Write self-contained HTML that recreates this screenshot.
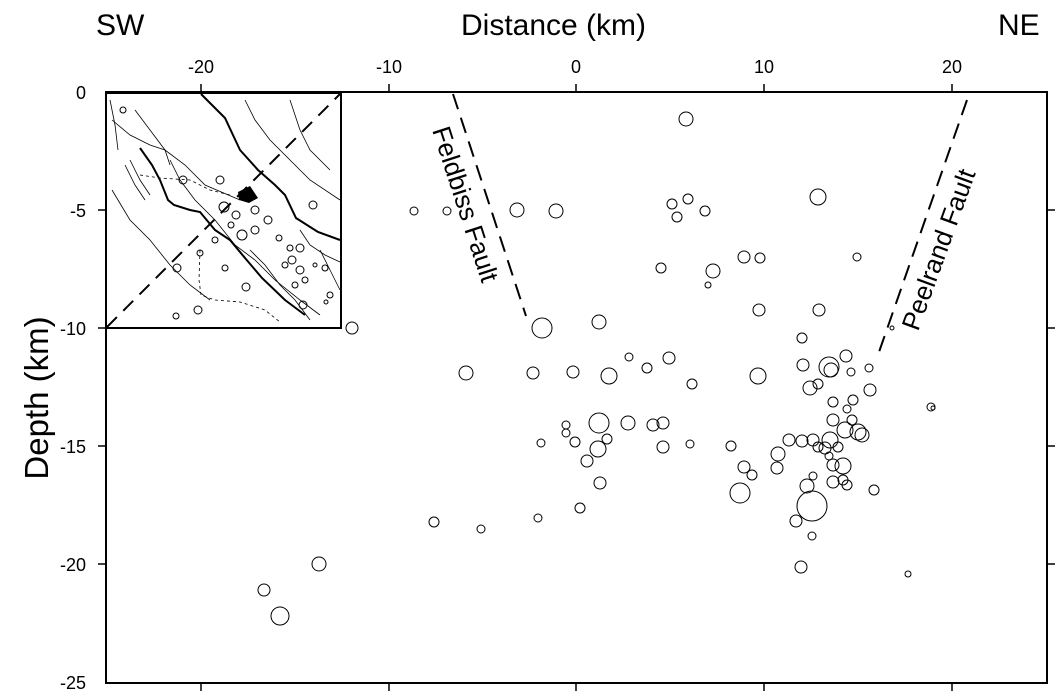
<!DOCTYPE html>
<html><head><meta charset="utf-8"><style>
html,body{margin:0;padding:0;background:#fff;}
svg{display:block;font-family:"Liberation Sans",Arial,sans-serif;}
</style></head><body>
<svg width="1059" height="698" viewBox="0 0 1059 698" xmlns="http://www.w3.org/2000/svg">
<rect width="1059" height="698" fill="#fff"/>
<g font-size="30" fill="#000">
<text x="96" y="35">SW</text>
<text x="461" y="35">Distance (km)</text>
<text x="998" y="35">NE</text>
<text transform="translate(48,398) rotate(-90)" text-anchor="middle" font-size="33">Depth (km)</text>
</g>
<g font-size="18" text-anchor="middle">
<text x="201" y="73">-20</text><text x="389" y="73">-10</text><text x="576" y="73">0</text><text x="764" y="73">10</text><text x="952" y="73">20</text>
</g>
<g font-size="18" text-anchor="end">
<text x="86" y="99">0</text><text x="86" y="217">-5</text><text x="86" y="335">-10</text><text x="86" y="453">-15</text><text x="86" y="571">-20</text><text x="86" y="689">-25</text>
</g>
<rect x="106" y="92" width="941" height="591" fill="none" stroke="#000" stroke-width="2"/>
<g stroke="#000" stroke-width="1.5">
<line x1="201" y1="92" x2="201" y2="84"/><line x1="389" y1="92" x2="389" y2="84"/><line x1="576" y1="92" x2="576" y2="84"/><line x1="764" y1="92" x2="764" y2="84"/><line x1="952" y1="92" x2="952" y2="84"/>
<line x1="201" y1="683" x2="201" y2="691"/><line x1="389" y1="683" x2="389" y2="691"/><line x1="576" y1="683" x2="576" y2="691"/><line x1="764" y1="683" x2="764" y2="691"/><line x1="952" y1="683" x2="952" y2="691"/>
<line x1="106" y1="210" x2="98" y2="210"/><line x1="106" y1="328" x2="98" y2="328"/><line x1="106" y1="446" x2="98" y2="446"/><line x1="106" y1="564" x2="98" y2="564"/>
<line x1="1047" y1="210" x2="1055" y2="210"/><line x1="1047" y1="328" x2="1055" y2="328"/><line x1="1047" y1="446" x2="1055" y2="446"/><line x1="1047" y1="564" x2="1055" y2="564"/>
</g>
<!-- inset -->
<g stroke="#000" fill="none">
<rect x="106" y="93" width="235" height="235" stroke-width="2"/>
<line x1="107" y1="327" x2="340" y2="94" stroke-width="2" stroke-dasharray="14,9"/>
<polyline points="201,94 225,118 240,150 258,170 275,185 285,195 296,218 318,232 340,240" stroke-width="2"/>
<polyline points="140,148 152,165 160,180 168,200 174,205 190,210 200,212 215,230 230,240 245,258 262,278 285,300 305,315" stroke-width="2"/>
<polyline points="112,120 130,135 150,145 165,150 185,165 205,185 240,200" stroke-width="0.8"/>
<polyline points="112,190 130,220 150,240 170,265 190,285 210,300" stroke-width="0.8"/>
<polyline points="135,110 150,130 165,150 170,165" stroke-width="0.8"/>
<polyline points="245,100 255,120 270,140 290,160 310,180 340,200" stroke-width="0.8"/>
<polyline points="290,100 300,130 310,150 330,170" stroke-width="0.8"/>
<polyline points="110,100 115,125 118,150" stroke-width="0.8"/>
<polyline points="125,165 135,185 145,200" stroke-width="0.8"/>
<polyline points="130,160 140,180 150,195" stroke-width="0.8"/>
<polyline points="170,160 180,180 195,200 215,220 235,245 255,260 275,280 300,300 320,315" stroke-width="0.8"/>
<polyline points="300,230 310,245 325,255 340,262" stroke-width="0.8"/>
<polyline points="320,250 330,270 340,290" stroke-width="0.8"/>
<polyline points="250,250 265,265 280,285 295,300 310,320" stroke-width="0.8"/>
<polyline points="200,250 199,280 201,295 215,300 240,302 265,310 280,322" stroke-width="0.8" stroke-dasharray="3,3"/>
<polyline points="140,175 160,178 190,180 210,190 230,195" stroke-width="0.8" stroke-dasharray="3,3"/>
</g>
<g fill="#000"><polygon points="238,192 250,186 258,198 249,203 239,200"/></g>
<g stroke="#000" fill="none" stroke-width="1">
<circle cx="123" cy="110" r="3"/><circle cx="220" cy="180" r="4"/><circle cx="183" cy="180" r="4"/><circle cx="224" cy="207" r="5"/>
<circle cx="236" cy="215" r="4"/><circle cx="255" cy="210" r="4"/><circle cx="268" cy="220" r="4"/><circle cx="255" cy="230" r="4"/>
<circle cx="242" cy="235" r="5"/><circle cx="231" cy="225" r="3"/><circle cx="215" cy="240" r="3"/><circle cx="200" cy="253" r="3"/>
<circle cx="225" cy="268" r="3"/><circle cx="246" cy="287" r="4"/><circle cx="177" cy="268" r="4"/><circle cx="198" cy="310" r="4"/>
<circle cx="176" cy="316" r="3"/><circle cx="313" cy="205" r="4"/><circle cx="300" cy="248" r="4"/><circle cx="292" cy="260" r="4"/>
<circle cx="285" cy="265" r="3"/><circle cx="300" cy="270" r="4"/><circle cx="295" cy="285" r="3"/><circle cx="305" cy="280" r="3"/>
<circle cx="325" cy="268" r="3"/><circle cx="330" cy="295" r="3"/><circle cx="303" cy="305" r="4"/><circle cx="279" cy="238" r="3"/>
<circle cx="290" cy="248" r="3"/><circle cx="315" cy="265" r="2"/><circle cx="326" cy="302" r="2"/>
</g>
<!-- faults -->
<g stroke="#000" stroke-width="2" stroke-dasharray="16,9" fill="none">
<line x1="453" y1="94" x2="526" y2="316"/>
<line x1="967" y1="100" x2="879" y2="352"/>
</g>
<g font-size="26">
<text transform="translate(432,130) rotate(72)">Feldbiss Fault</text>
<text transform="translate(918,332) rotate(-70)">Peelrand Fault</text>
</g>
<g stroke="#000" fill="none" stroke-width="1">
<circle cx="686" cy="119" r="7"/><circle cx="517" cy="210" r="7"/><circle cx="556" cy="211" r="7"/><circle cx="414" cy="211" r="4"/><circle cx="447" cy="211" r="4"/>
<circle cx="688" cy="199" r="5"/><circle cx="672" cy="204" r="5"/><circle cx="677" cy="217" r="5"/><circle cx="705" cy="211" r="5"/><circle cx="818" cy="197" r="8"/>
<circle cx="542" cy="328" r="10"/><circle cx="599" cy="322" r="7"/><circle cx="352" cy="328" r="6"/>
<circle cx="466" cy="373" r="7"/><circle cx="533" cy="373" r="6"/><circle cx="573" cy="372" r="6"/><circle cx="609" cy="376" r="8"/>
<circle cx="629" cy="357" r="4"/><circle cx="647" cy="368" r="5"/><circle cx="669" cy="358" r="6"/><circle cx="692" cy="384" r="5"/>
<circle cx="661" cy="268" r="5"/><circle cx="713" cy="271" r="7"/><circle cx="708" cy="285" r="3"/><circle cx="744" cy="257" r="6"/><circle cx="760" cy="258" r="5"/>
<circle cx="759" cy="310" r="6"/><circle cx="802" cy="338" r="5"/><circle cx="819" cy="310" r="6"/><circle cx="857" cy="257" r="4"/><circle cx="892" cy="328" r="2"/>
<circle cx="803" cy="365" r="6"/><circle cx="758" cy="376" r="8"/><circle cx="829" cy="367" r="10"/><circle cx="831" cy="370" r="7"/><circle cx="846" cy="356" r="6"/>
<circle cx="869" cy="368" r="4"/><circle cx="851" cy="372" r="4"/><circle cx="810" cy="388" r="7"/><circle cx="818" cy="384" r="5"/><circle cx="931" cy="407" r="4"/>
<circle cx="870" cy="390" r="6"/><circle cx="853" cy="400" r="5"/><circle cx="833" cy="402" r="5"/><circle cx="847" cy="409" r="4"/><circle cx="852" cy="420" r="5"/>
<circle cx="833" cy="420" r="6"/><circle cx="845" cy="430" r="8"/><circle cx="858" cy="432" r="8"/><circle cx="862" cy="435" r="7"/><circle cx="830" cy="440" r="8"/>
<circle cx="813" cy="440" r="6"/><circle cx="802" cy="441" r="6"/><circle cx="818" cy="447" r="5"/><circle cx="825" cy="448" r="6"/><circle cx="838" cy="447" r="5"/>
<circle cx="829" cy="456" r="4"/><circle cx="833" cy="465" r="6"/><circle cx="843" cy="466" r="8"/><circle cx="833" cy="482" r="6"/><circle cx="843" cy="480" r="5"/>
<circle cx="847" cy="485" r="5"/><circle cx="874" cy="490" r="5"/><circle cx="807" cy="486" r="7"/><circle cx="813" cy="476" r="4"/>
<circle cx="812" cy="506" r="15"/><circle cx="796" cy="521" r="6"/><circle cx="812" cy="536" r="4"/><circle cx="801" cy="567" r="6"/>
<circle cx="789" cy="440" r="6"/><circle cx="731" cy="446" r="5"/><circle cx="690" cy="444" r="4"/>
<circle cx="566" cy="425" r="4"/><circle cx="599" cy="423" r="10"/><circle cx="628" cy="423" r="7"/><circle cx="653" cy="425" r="6"/><circle cx="663" cy="423" r="6"/>
<circle cx="541" cy="443" r="4"/><circle cx="566" cy="433" r="4"/><circle cx="575" cy="442" r="5"/><circle cx="607" cy="439" r="5"/><circle cx="598" cy="449" r="8"/>
<circle cx="587" cy="461" r="6"/><circle cx="663" cy="447" r="6"/><circle cx="600" cy="483" r="6"/><circle cx="580" cy="508" r="5"/>
<circle cx="740" cy="493" r="10"/><circle cx="744" cy="467" r="6"/><circle cx="752" cy="475" r="5"/><circle cx="778" cy="454" r="7"/><circle cx="777" cy="468" r="6"/>
<circle cx="434" cy="522" r="5"/><circle cx="481" cy="529" r="4"/><circle cx="538" cy="518" r="4"/>
<circle cx="319" cy="564" r="7"/><circle cx="264" cy="590" r="6"/><circle cx="280" cy="616" r="9"/><circle cx="908" cy="574" r="3"/><circle cx="933" cy="408" r="2"/>
</g>
</svg>
</body></html>
